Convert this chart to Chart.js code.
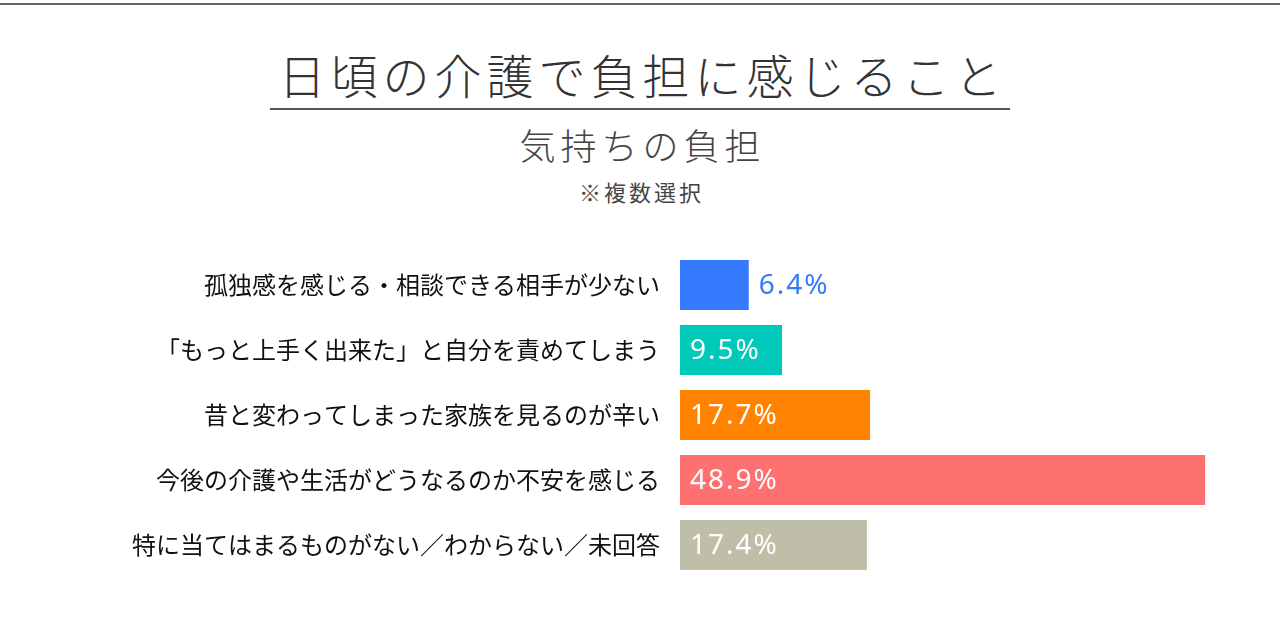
<!DOCTYPE html>
<html lang="ja">
<head>
<meta charset="utf-8">
<script src="https://cdn.jsdelivr.net/npm/chart.js@4.4.1/dist/chart.umd.min.js"></script>
<style>
  html, body { margin: 0; padding: 0; background: #fff; }
  #wrap { position: relative; width: 1280px; height: 640px; overflow: hidden; font-family: "Noto Sans CJK JP", "Noto Sans", sans-serif; }
  #topline { position: absolute; left: 0; top: 3px; width: 1280px; height: 2px; background: #666; }
  #title { position: absolute; left: 270px; top: 44px; width: 740px; text-align: center; font-size: 47px; font-weight: 300; letter-spacing: 5px; color: #333; line-height: 60px; padding-left: 5px; box-sizing: border-box; }
  #titleline { position: absolute; left: 270px; top: 108px; width: 740px; height: 2px; background: #555; }
  #sub { position: absolute; left: 0; top: 121px; width: 1280px; text-align: center; font-size: 36px; font-weight: 300; letter-spacing: 5px; color: #444; line-height: 46px; padding-left: 5px; box-sizing: border-box; }
  #note { position: absolute; left: 0; top: 176px; width: 1280px; text-align: center; font-size: 22px; letter-spacing: 3px; color: #444; line-height: 30px; padding-left: 3px; box-sizing: border-box; }
  #cv { position: absolute; left: 0; top: 0; }
</style>
</head>
<body>
<div id="wrap">
  <div id="topline"></div>
  <div id="title">日頃の介護で負担に感じること</div>
  <div id="titleline"></div>
  <div id="sub">気持ちの負担</div>
  <div id="note">※複数選択</div>
  <canvas id="cv" width="1280" height="640"></canvas>
</div>
<script>
const categories = [
  '孤独感を感じる・相談できる相手が少ない',
  '「もっと上手く出来た」と自分を責めてしまう',
  '昔と変わってしまった家族を見るのが辛い',
  '今後の介護や生活がどうなるのか不安を感じる',
  '特に当てはまるものがない／わからない／未回答'
]
const values = [6.4, 9.5, 17.7, 48.9, 17.4]
const colors = ['#3579ff', '#00c9b9', '#ff8200', '#ff7070', '#bfbea9']

// percentage labels: inside the bar in white, or next to it in bar colour when too short
const valueLabels = {
  id: 'valueLabels',
  afterDatasetsDraw(chart) {
    const ctx = chart.ctx
    const meta = chart.getDatasetMeta(0)
    ctx.save()
    ctx.font = '28px "Noto Sans", "Open Sans", sans-serif'
    ctx.letterSpacing = '2px'
    ctx.textBaseline = 'middle'
    ctx.textAlign = 'left'
    meta.data.forEach((bar, i) => {
      const txt = values[i].toFixed(1) + '%'
      const w = ctx.measureText(txt).width
      const inside = bar.x - bar.base > w + 20
      ctx.fillStyle = inside ? '#fff' : colors[i]
      ctx.fillText(txt, inside ? bar.base + 10 : bar.x + 10, bar.y + 1)
    })
    ctx.restore()
  }
}

new Chart(document.getElementById('cv').getContext('2d'), {
  type: 'bar',
  data: {
    labels: categories,
    datasets: [{
      data: values,
      backgroundColor: colors,
      borderWidth: 0,
      barPercentage: 50 / 65,
      categoryPercentage: 1
    }]
  },
  options: {
    indexAxis: 'y',
    responsive: false,
    animation: false,
    layout: { padding: { top: 252.5, bottom: 62.5, left: 0, right: 63 } },
    plugins: { legend: { display: false }, tooltip: { enabled: false } },
    scales: {
      x: { display: false, min: 0, max: 50 },
      y: {
        grid: { display: false, drawTicks: false },
        border: { display: false },
        ticks: {
          color: '#111',
          padding: 20,
          font: { family: '"Noto Sans CJK JP", sans-serif', size: 24 }
        },
        afterFit(scale) { scale.width = 680 }
      }
    }
  },
  plugins: [valueLabels]
})
</script>
</body>
</html>
